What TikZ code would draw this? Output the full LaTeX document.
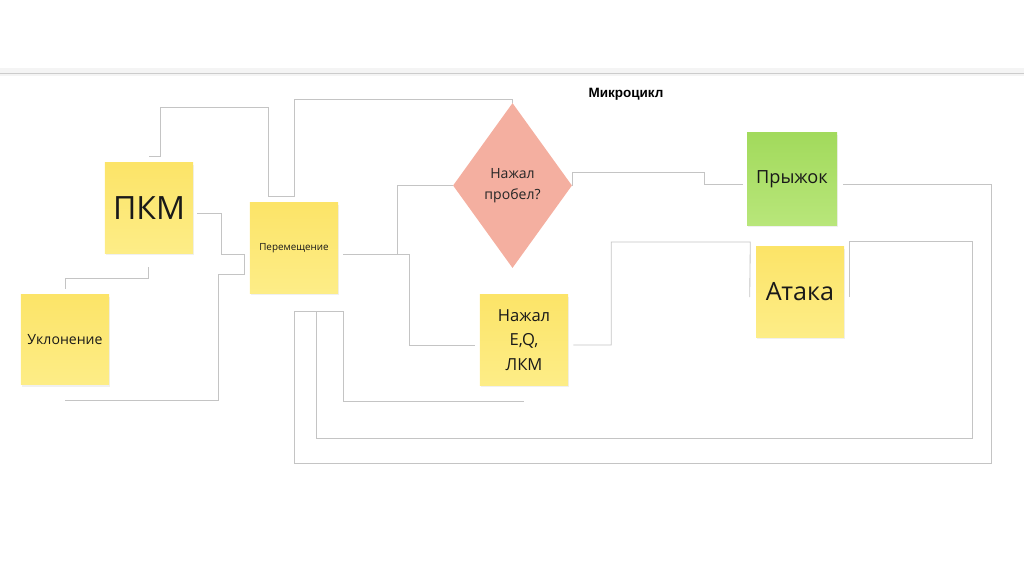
\documentclass[tikz,border=0pt]{standalone}
\usepackage{fontspec}
\setmainfont{Open Sans}
\newfontfamily\titlefont{Liberation Sans}
\usetikzlibrary{shapes.geometric,shadows}
\definecolor{notey}{RGB}{252,228,104}
\definecolor{noteyl}{RGB}{253,237,135}
\definecolor{noteg}{RGB}{162,218,92}
\definecolor{notegl}{RGB}{184,230,122}
\definecolor{decide}{RGB}{244,175,160}
\definecolor{wire}{RGB}{196,196,196}

\begin{document}
\begin{tikzpicture}[x=0.025cm, y=-0.025cm,
    note/.style={minimum width=2.2cm, minimum height=2.25cm, inner sep=0pt, align=center,
      top color=notey, bottom color=noteyl, text=black!90,
      drop shadow={opacity=0.12, shadow xshift=0.6pt, shadow yshift=-1.6pt}},
    link/.style={draw=wire, line width=0.6pt}]
    \useasboundingbox (0,0) rectangle (1024,574);
    \fill[gray!9] (0,68) rectangle (1024,76);
    \draw[gray!40, line width=1pt] (0,73.5) -- (1024,73.5);
    \node[font={\titlefont\bfseries\fontsize{9.6}{11}\selectfont}] (title) at (626,94) {Микроцикл};

    \node[note, font={\fontsize{22.8}{27}\selectfont}] (pkm) at (149,208) {ПКМ};
    \node[note, font={\fontsize{7}{9}\selectfont}] (move) at (294,248) {Перемещение};
    \node[note, font={\fontsize{10}{12}\selectfont}] (dodge) at (65,339.5) {Уклонение};
    \node[diamond, fill=decide, minimum width=2.975cm, minimum height=4.125cm, inner sep=0pt,
      align=center, text=black!85, font={\fontsize{10}{15}\selectfont}] (space) at (512.5,185.5) {Нажал\\пробел?};
    \node[note, top color=noteg, bottom color=notegl, minimum width=2.25cm, minimum height=2.3cm,
      font={\fontsize{12.9}{15}\selectfont}] (jump) at (792,179) {Прыжок};
    \node[note, font={\fontsize{17.9}{21}\selectfont}] (attack) at (800,292) {Атака};
    \node[note, font={\fontsize{11.8}{17.4}\selectfont}] (eq) at (524,340) {Нажал\\E,Q,\\ЛКМ};

    \draw[link] ([yshift=.15cm]pkm.north) -- ++(11,0) |- (268,107) |- ([yshift=.15cm]move.north);
    \draw[link] ([yshift=.15cm]move.north) |- ([yshift=.075cm]space.north) -- (space.north);
    \draw[link] ([shift={(4,5)}]pkm.east) -- ++(24,0) |- ([shift={(-5,6)}]move.west);
    \draw[link] ([yshift=-.4cm]dodge.south) -| (218,274) -| ([shift={(-5,6)}]move.west);
    \draw[link] ([shift={(-1,14)}]pkm.south) -- ++(0,11) -| ([yshift=.125cm]dodge.north);
    \draw[link] ([shift={(5,6)}]move.east) -- ++(54,0) |- (space.west);
    \draw[link] ([shift={(5,6)}]move.east) -- ++(66,0) |- ([shift={(-5,5)}]eq.west);
    \draw[link] (space.east) |- ++(132,-13) |- ([shift={(-4,5)}]jump.west);
    \draw[link] ([shift={(6,5)}]jump.east) -- ++(148,0) -- ++(0,279) -| ([yshift=-.45cm]move.south) -- ++(49,0);
    \draw[link] ([shift={(5,5)}]attack.east) |- ++(123,-56) -- ++(0,197) -| ([shift={(22,18)}]move.south);
    \draw[link] ([shift={(5,5)}]eq.east) -- ++(38,0) |- ++(139,-103) -- ([shift={(-6,5)}]attack.west);
    \draw[link] ([shift={(49,18)}]move.south) |- ([yshift=-.4cm]eq.south);
\end{tikzpicture}
\end{document}
